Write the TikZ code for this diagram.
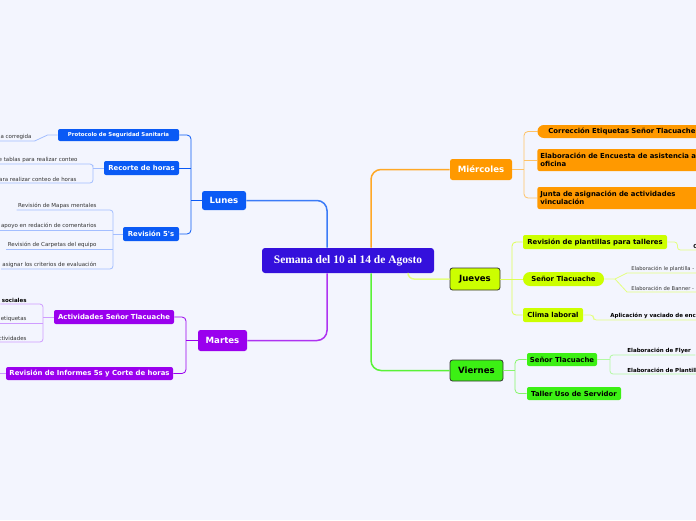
\documentclass[tikz,border=0pt]{standalone}
\usepackage{fontspec}
\setmainfont{DejaVu Sans}
\newfontfamily\titlefont{Liberation Serif}
\usepackage{tikz}
\usetikzlibrary{positioning}

\definecolor{bgc}{HTML}{F3F5FE}
\definecolor{semana}{HTML}{3410DC}
\definecolor{lun}{HTML}{0A5AF5}
\definecolor{lunlt}{HTML}{A3BEFF}
\definecolor{mar}{HTML}{9A00EE}
\definecolor{marlt}{HTML}{CF9CFF}
\definecolor{mie}{HTML}{FF9900}
\definecolor{mielt}{HTML}{FFC266}
\definecolor{jue}{HTML}{CCFF00}
\definecolor{juelt}{HTML}{DDFF55}
\definecolor{juelink}{HTML}{E4FF80}
\definecolor{vie}{HTML}{3CF014}
\definecolor{vielt}{HTML}{86F56A}
\definecolor{vielink}{HTML}{B2F9A2}
\definecolor{dayedge}{HTML}{333333}
\definecolor{leafgray}{HTML}{333333}

\begin{document}
\begin{tikzpicture}[x=1pt, y=-1pt, line width=0.8pt,
  day/.style={rounded corners=2.5pt, inner sep=0pt, minimum height=20pt, font=\bfseries\fontsize{8.6}{10}\selectfont},
  task/.style={rounded corners=2pt, inner sep=0pt, minimum height=14pt, font=\bfseries\fontsize{6.9}{8}\selectfont},
  lleaf/.style={anchor=south east, inner xsep=1pt, inner ysep=1.2pt, text=leafgray, font=\fontsize{5.5}{6}\selectfont},
  rleaf/.style={anchor=south west, inner xsep=4pt, inner ysep=1.2pt, text=leafgray, font=\fontsize{5.2}{6}\selectfont},
  bleaf/.style={text=black, font=\bfseries\fontsize{5.5}{6}\selectfont},
  link/.style={line width=1.5pt, rounded corners=10pt}]
  \useasboundingbox (0,0) rectangle (696,520);
  \fill[bgc] (0,0) rectangle (696,520);
  \clip (0,0) rectangle (696,520);

  % centre and days
  \node[fill=semana, text=white, rounded corners=3pt, minimum width=172pt, minimum height=25pt, inner sep=0pt,
        font=\titlefont\bfseries\fontsize{11.5}{13}\selectfont] (semana) at (348,260.5) {Semana del 10 al 14 de Agosto};
  \node[day, fill=lun, text=white, minimum width=44pt, minimum height=19pt] (lunes) at (224,200.5) {Lunes};
  \node[day, fill=mar, text=white, minimum width=49pt, minimum height=21pt] (martes) at (222.5,340.5) {Martes};
  \node[day, fill=mie, text=white, minimum width=62pt, minimum height=21pt] (mie) at (481,169.5) {Miércoles};
  \node[day, fill=jue, draw=dayedge, minimum width=50pt, minimum height=22pt] (jue) at (475,279) {Jueves};
  \node[day, fill=vie, draw=dayedge, minimum width=53pt, minimum height=21pt] (vie) at (476.5,370.5) {Viernes};

  % Lunes
  \node[task, fill=lun, text=white, minimum width=121pt, minimum height=12pt, font=\bfseries\fontsize{5.4}{6}\selectfont] (prot) at (118.5,135) {Protocolo de Seguridad Sanitaria};
  \node[task, fill=lun, text=white, minimum width=75pt] (recorte) at (141.5,168) {Recorte de horas};
  \node[task, fill=lun, text=white, minimum width=56pt] (rev5) at (151,234) {Revisión 5\textquotesingle s};
  \node[lleaf] (pl1) at (33,141) {a corregida};
  \node[lleaf] (rl1) at (79,164) {e tablas para realizar conteo};
  \node[lleaf] (rl2) at (78,183) {ara realizar conteo de horas};
  \node[lleaf] (sl1) at (98,210) {Revisión de Mapas mentales};
  \node[lleaf] (sl2) at (98,230) {apoyo en redación de comentarios};
  \node[lleaf] (sl3) at (98,249) {Revisión de Carpetas del equipo};
  \node[lleaf] (sl4) at (98,269) {asignar los criterios de evaluación};

  % Martes
  \node[task, fill=mar, text=white, minimum width=120pt] (actst) at (114,317) {Actividades Señor Tlacuache};
  \node[task, fill=mar, text=white, minimum width=167pt, minimum height=13pt] (revinf) at (89.5,373.5) {Revisión de Informes 5s y Corte de horas};
  \node[lleaf, bleaf] (al1) at (28,304) {sociales};
  \node[lleaf] (al2) at (28,323) {etiquetas};
  \node[lleaf] (al3) at (28,342) {ctividades};
  \coordinate (revout) at (0,373.5);

  % Miercoles
  \node[task, fill=mie, anchor=west, rounded corners=6.5pt, minimum height=13pt, text width=170pt, inner xsep=11pt, align=left] (corr) at (537,131.5) {Corrección Etiquetas Señor Tlacuache};
  \node[task, fill=mie, anchor=west, minimum height=22pt, text width=170pt, inner xsep=3pt, align=left] (encu) at (537,160) {Elaboración de Encuesta de asistencia a\\oficina};
  \node[task, fill=mie, anchor=west, minimum height=22pt, text width=170pt, inner xsep=3pt, align=left] (junta) at (537,198) {Junta de asignación de actividades\\vinculación};

  % Jueves
  \node[task, fill=jue, minimum width=144pt] (revpl) at (595,242) {Revisión de plantillas para talleres};
  \node[task, fill=jue, minimum width=81pt, rounded corners=7pt] (stj) at (563.5,279) {Señor Tlacuache};
  \node[task, fill=jue, minimum width=60pt] (clima) at (553,315) {Clima laboral};
  \node[rleaf, bleaf] (jl1) at (689,250) {C};
  \node[rleaf] (jl2) at (627,273) {Elaboración le plantilla -};
  \node[rleaf] (jl3) at (627,292) {Elaboración de Banner -};
  \node[rleaf, bleaf] (jl4) at (606,320) {Aplicación y vaciado de encuesta};

  % Viernes
  \node[task, fill=vie, minimum width=70pt, minimum height=13pt] (stv) at (562,359.5) {Señor Tlacuache};
  \node[task, fill=vie, minimum width=94pt, minimum height=13pt] (taller) at (574,393.5) {Taller Uso de Servidor};
  \node[rleaf, bleaf] (vl1) at (623,355) {Elaboración de Flyer};
  \node[rleaf, bleaf] (vl2) at (623,374) {Elaboración de Plantilla};

  % links from the centre
  \draw[link, lun!80!white] ([xshift=-21pt]semana.north) |- (lunes.east);
  \draw[link, mar!80!white] ([xshift=-21pt]semana.south) |- (martes.east);
  \draw[link, mie!85!white] ([xshift=23pt]semana.north) |- (mie.west);
  \draw[link, vie!85!white] ([xshift=23pt]semana.south) |- (vie.west);
  \draw[link, juelink, rounded corners=6pt] ([xshift=60pt]semana.south) |- (jue.west);

  % day brackets
  \coordinate (lb) at (191,200.5);
  \draw[lun, rounded corners=4pt] (prot.east) -| (lb) |- (rev5.east);
  \draw[lun] (recorte.east) -- (recorte.east -| lb);
  \draw[lun] (lunes.west) -- (lb);
  \coordinate (mb) at (186,340.5);
  \draw[mar, rounded corners=4pt] (actst.east) -| (mb) |- (revinf.east);
  \draw[mar] (martes.west) -- (mb);
  \coordinate (wb) at (524,169.5);
  \draw[mielt, rounded corners=4pt] (corr.west) -| (wb) |- (junta.west);
  \draw[mielt] (encu.west) -- (encu.west -| wb);
  \draw[mielt] (mie.east) -- (wb);
  \coordinate (jb) at (512,279);
  \draw[juelt, rounded corners=4pt] (revpl.west) -| (jb) |- (clima.west);
  \draw[juelt] (jue.east) -- (stj.west);
  \coordinate (vb) at (515,370.5);
  \draw[vielt, rounded corners=4pt] (stv.west) -| (vb) |- (taller.west);
  \draw[vielt] (vie.east) -- (vb);

  % leaf lines
  \draw[lunlt] (prot.west) -- ++(-10,0) -- ++(-13,6) -- (pl1.south west);
  \coordinate (rb) at (93,168);
  \draw[lunlt, rounded corners=3pt] (rl1.south west) -| (rb) |- (rl2.south west);
  \draw[lunlt] (recorte.west) -- (rb);
  \coordinate (sb) at (113,234);
  \draw[lunlt, rounded corners=3pt] (sl1.south west) -| (sb) |- (sl4.south west);
  \draw[lunlt] (sl2.south west) -- (sl2.south west -| sb);
  \draw[lunlt] (sl3.south west) -- (sl3.south west -| sb);
  \draw[lunlt] (rev5.west) -- (sb);
  \coordinate (ab) at (43,317);
  \draw[marlt, rounded corners=3pt] (al1.south west) -| (ab) |- (al3.south west);
  \draw[marlt] (al2.south west) -- (al2.south west -| ab);
  \draw[marlt] (actst.west) -- (ab);
  \draw[marlt] (revinf.west) -- (revout);
  \draw[juelink, rounded corners=3pt] (revpl.east) -- ++(10,0) |- (jl1.south east);
  \coordinate (tj) at (615,279);
  \draw[juelink] (stj.east) -- (tj) -- (jl2.south west) -- (jl2.south east);
  \draw[juelink] (tj) -- (jl3.south west) -- (jl3.south east);
  \draw[juelink, rounded corners=3pt] (clima.east) -- ++(10,0) |- (jl4.south east);
  \coordinate (tv) at (610,359.5);
  \draw[vielink, rounded corners=3pt] (vl1.south east) -| (tv) |- (vl2.south east);
  \draw[vielink] (stv.east) -- (tv);
\end{tikzpicture}
\end{document}
